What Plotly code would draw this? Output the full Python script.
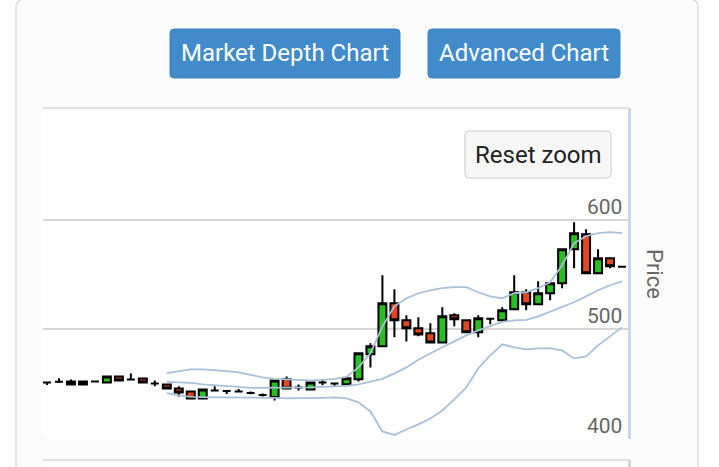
import plotly.graph_objects as go

# ---------------- data ----------------
idx = list(range(49))
open_ = [451.6, 452.1, 452.5, 449.8, 452.5, 451.6, 457.1, 454.3, 455.2, 450.7,
         449.8, 446.1, 443.4, 437.0, 444.3, 443.7, 443.4, 442.0, 440.2, 438.2,
         454.4, 447.0, 445.2, 451.6, 450.7, 450.0, 454.4, 477.2, 484.5, 523.7,
         508.2, 500.9, 496.4, 488.1, 512.8, 508.2, 497.3, 509.6, 508.2, 518.3,
         533.8, 522.8, 532.9, 542.0, 573.0, 586.8, 551.1, 564.8, 557.1]
close = [451.6, 452.1, 449.8, 452.5, 452.5, 457.1, 453.4, 454.3, 451.6, 450.7,
         446.1, 442.5, 437.0, 445.2, 444.3, 443.7, 443.4, 442.0, 440.2, 453.4,
         446.1, 447.0, 451.6, 451.6, 450.7, 455.5, 478.1, 484.5, 523.7, 508.2,
         500.9, 495.4, 488.1, 511.9, 509.1, 497.3, 510.0, 509.6, 517.4, 533.8,
         522.8, 532.9, 542.0, 573.0, 587.7, 551.1, 564.8, 557.5, 557.1]
high = [452.5, 455.3, 454.3, 452.8, 453.4, 457.5, 457.5, 459.8, 455.6, 453.4,
        450.7, 448.0, 444.3, 445.6, 448.0, 444.2, 445.7, 443.4, 441.6, 453.9,
        457.1, 449.8, 452.0, 454.3, 451.6, 455.9, 478.5, 487.2, 549.3, 536.5,
        512.8, 511.0, 505.5, 520.1, 514.6, 508.7, 512.8, 510.1, 520.1, 549.3,
        536.5, 543.8, 542.5, 573.5, 597.7, 591.3, 573.0, 565.3, 557.5]
low = [449.3, 451.1, 449.3, 449.5, 451.6, 451.2, 453.0, 453.4, 451.2, 448.0,
       445.7, 438.8, 436.5, 436.6, 443.8, 441.1, 443.0, 440.7, 438.8, 435.2,
       445.7, 444.3, 444.8, 448.9, 448.0, 449.6, 452.5, 465.3, 484.0, 492.7,
       489.0, 493.6, 487.7, 487.7, 502.7, 496.8, 492.7, 504.6, 507.8, 517.8,
       517.4, 522.4, 526.5, 537.5, 555.7, 550.7, 550.7, 555.7, 556.6]

band_idx = list(range(10, 49))
bb_upper = [460.1, 462.1, 463.5, 463.5, 463.0, 461.9, 460.7, 458.5, 456.2, 454.8,
            454.4, 453.9, 453.4, 453.9, 454.8, 456.6, 465.3, 478.1, 502.7, 521.0,
            528.3, 532.9, 535.6, 537.5, 538.4, 538.4, 533.8, 530.1, 528.3, 532.9,
            533.8, 537.5, 543.0, 558.5, 578.6, 584.9, 587.7, 588.6, 587.7]
bb_middle = [452.1, 451.6, 451.1, 449.8, 448.8, 448.4, 447.5, 446.6, 446.6, 446.6,
             447.0, 447.0, 447.0, 447.5, 447.9, 448.4, 449.8, 452.1, 454.8, 459.8,
             465.3, 472.2, 478.1, 483.6, 489.0, 494.5, 499.1, 502.7, 506.8, 508.2,
             508.7, 511.9, 516.0, 520.1, 524.7, 530.1, 535.6, 540.2, 543.8]
bb_lower = [441.8, 439.7, 438.4, 437.9, 437.9, 437.9, 437.9, 437.9, 437.9, 437.5,
            437.0, 437.0, 437.0, 437.5, 437.9, 437.0, 433.4, 425.1, 406.9, 403.7,
            408.7, 413.3, 418.7, 426.0, 436.1, 447.0, 464.4, 476.3, 486.3, 483.6,
            481.8, 482.7, 482.7, 480.8, 473.5, 475.4, 485.4, 493.6, 501.8]

tick_values = [400, 500, 600]
axis_title = "Price"
buttons = ["Market Depth Chart", "Advanced Chart"]
reset_label = "Reset zoom"

# ---------------- layout helpers ----------------
W, H = 719, 467
PL, PR, PT, PB = 43, 628, 110, 439   # plot area in pixels


def px(x):
    return x / W


def py(y):
    return 1 - y / H


def rrect(x0, y0, x1, y1, r):
    return (f"M {px(x0 + r)},{py(y0)} L {px(x1 - r)},{py(y0)} "
            f"Q {px(x1)},{py(y0)} {px(x1)},{py(y0 + r)} "
            f"L {px(x1)},{py(y1 - r)} Q {px(x1)},{py(y1)} {px(x1 - r)},{py(y1)} "
            f"L {px(x0 + r)},{py(y1)} Q {px(x0)},{py(y1)} {px(x0)},{py(y1 - r)} "
            f"L {px(x0)},{py(y0 + r)} Q {px(x0)},{py(y0)} {px(x0 + r)},{py(y0)} Z")


FONT = "Roboto, 'Open Sans', sans-serif"
BAND = "#a9c0d6"

fig = go.Figure()
for series in (bb_upper, bb_middle, bb_lower):
    fig.add_trace(go.Scatter(x=band_idx, y=series, mode="lines",
                             line=dict(color=BAND, width=1.8),
                             hoverinfo="skip", showlegend=False))

fig.add_trace(go.Candlestick(
    x=idx, open=open_, high=high, low=low, close=close,
    increasing=dict(fillcolor="#27bf22", line=dict(color="#000000", width=2)),
    decreasing=dict(fillcolor="#e4461f", line=dict(color="#000000", width=2)),
    whiskerwidth=0, showlegend=False))

shapes = [
    # card
    dict(type="path", path=rrect(16, -1, 698, 520, 9), xref="paper", yref="paper",
         fillcolor="#fcfcfd", line=dict(color="#dadde2", width=1.5), layer="below"),
    # main plot background
    dict(type="rect", xref="paper", yref="paper", x0=px(PL), x1=px(PR),
         y0=py(PB), y1=py(PT - 2), fillcolor="#ffffff", line=dict(width=0), layer="below"),
    # top border of plot
    dict(type="line", xref="paper", yref="paper", x0=px(PL), x1=px(PR),
         y0=py(PT - 2), y1=py(PT - 2), line=dict(color="#d6d6d6", width=1.5)),
    # next panel
    dict(type="rect", xref="paper", yref="paper", x0=px(PL), x1=px(PR),
         y0=py(480), y1=py(460), fillcolor="#ffffff",
         line=dict(width=0), layer="below"),
    dict(type="line", xref="paper", yref="paper", x0=px(PL), x1=px(630),
         y0=py(460), y1=py(460), line=dict(color="#d6d6d6", width=1.5)),
    dict(type="line", xref="paper", yref="paper", x0=px(629.5), x1=px(629.5),
         y0=py(460), y1=py(480), line=dict(color="#ccd6eb", width=3)),
    # right axis line
    dict(type="line", xref="paper", yref="paper", x0=px(629.5), x1=px(629.5),
         y0=py(PT - 2), y1=py(PB), line=dict(color="#ccd6eb", width=3)),
    # buttons
    dict(type="path", path=rrect(170, 29, 400, 78, 4), xref="paper", yref="paper",
         fillcolor="#428bca", line=dict(color="#3d85c3", width=1), layer="above"),
    dict(type="path", path=rrect(428, 29, 620, 78, 4), xref="paper", yref="paper",
         fillcolor="#428bca", line=dict(color="#3d85c3", width=1), layer="above"),
    dict(type="path", path=rrect(465, 131, 611, 178, 4), xref="paper", yref="paper",
         fillcolor="#f7f7f7", line=dict(color="#cccccc", width=1), layer="above"),
]

annotations = [
    dict(text=buttons[0], x=px(285), y=py(53.5), xref="paper", yref="paper",
         xanchor="center", yanchor="middle",
         showarrow=False, font=dict(family=FONT, size=24, color="#ffffff")),
    dict(text=buttons[1], x=px(524), y=py(53.5), xref="paper", yref="paper",
         xanchor="center", yanchor="middle",
         showarrow=False, font=dict(family=FONT, size=24, color="#ffffff")),
    dict(text=reset_label, x=px(538), y=py(154.5), xref="paper", yref="paper",
         xanchor="center", yanchor="middle",
         showarrow=False, font=dict(family=FONT, size=24, color="#222222")),
    dict(text=axis_title, x=px(655), y=py(274), xref="paper", yref="paper",
         xanchor="center", yanchor="middle",
         showarrow=False, textangle=90,
         font=dict(family=FONT, size=22, color="#666666")),
]
for v in tick_values:
    annotations.append(dict(text=str(v), x=px(624), y=v, xref="paper", yref="y",
                            xanchor="right", yanchor="bottom", yshift=-1,
                            showarrow=False,
                            font=dict(family=FONT, size=21, color="#666666")))

fig.update_layout(
    width=W, height=H,
    margin=dict(l=0, r=0, t=0, b=0),
    paper_bgcolor="#ffffff",
    plot_bgcolor="rgba(0,0,0,0)",
    shapes=shapes,
    annotations=annotations,
    showlegend=False,
    boxgap=0.05,
    boxgroupgap=0.3,
    xaxis=dict(domain=[px(PL), px(PR)], range=[-0.334, 48.5],
               showgrid=False, zeroline=False, showticklabels=False,
               showline=False, rangeslider=dict(visible=False), fixedrange=True),
    yaxis=dict(domain=[py(PB), py(PT)], range=[400, 700], side="right",
               dtick=100, tick0=0, showgrid=True, gridcolor="#d6d6d6", gridwidth=1.5,
               zeroline=False, showticklabels=False, showline=False, fixedrange=True),
)

fig.write_html("out.html", config={"displayModeBar": False},
               post_script="document.body.style.margin='0';"
                           "document.body.style.overflow='hidden';")
